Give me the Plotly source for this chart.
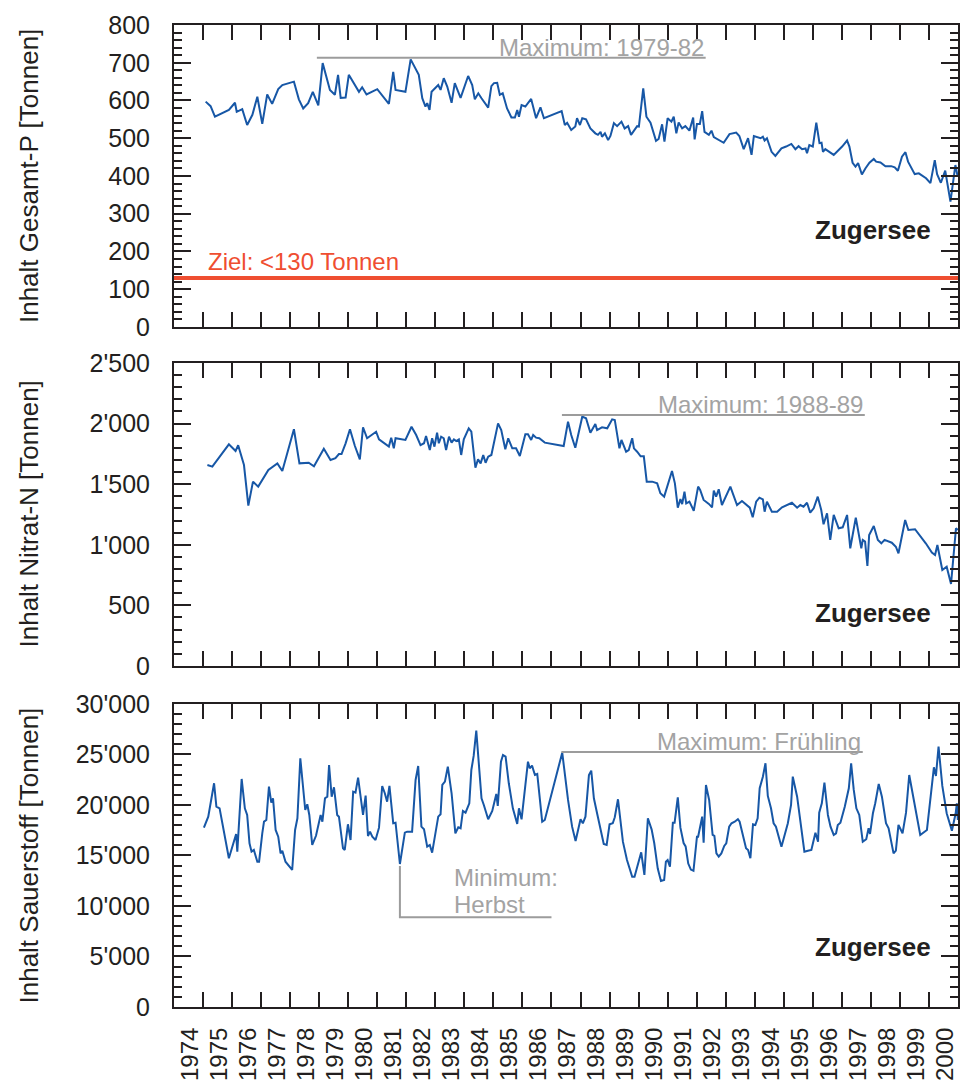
import plotly.graph_objects as go

# ---------------------------------------------------------------------------
# Zugersee: lake content of total phosphorus, nitrate-N and oxygen (tonnes)
# ---------------------------------------------------------------------------
p_year = [1975.09, 1975.26, 1975.41, 1975.89, 1976.10, 1976.16, 1976.35, 1976.52, 1976.70, 1976.87,
          1977.04, 1977.21, 1977.38, 1977.59, 1977.73, 1978.13, 1978.30, 1978.45, 1978.62, 1978.78,
          1978.97, 1979.12, 1979.37, 1979.54, 1979.65, 1979.74, 1979.91, 1980.02, 1980.37, 1980.48,
          1980.63, 1981.00, 1981.40, 1981.55, 1981.63, 1981.97, 1982.15, 1982.43, 1982.55, 1982.66,
          1982.72, 1982.80, 1982.87, 1983.10, 1983.18, 1983.29, 1983.41, 1983.56, 1983.67, 1983.87,
          1984.13, 1984.27, 1984.36, 1984.48, 1984.59, 1984.69, 1984.82, 1984.93, 1985.02, 1985.13,
          1985.22, 1985.32, 1985.47, 1985.62, 1985.74, 1985.82, 1985.88, 1985.97, 1986.10, 1986.30,
          1986.47, 1986.62, 1986.74, 1987.35, 1987.46, 1987.54, 1987.68, 1987.82, 1987.88, 1987.98,
          1988.06, 1988.19, 1988.34, 1988.51, 1988.60, 1988.69, 1988.74, 1988.84, 1988.95, 1989.03,
          1989.15, 1989.26, 1989.41, 1989.52, 1989.64, 1989.74, 1989.95, 1990.01, 1990.16, 1990.27,
          1990.41, 1990.60, 1990.69, 1990.81, 1990.89, 1991.00, 1991.13, 1991.21, 1991.30, 1991.38,
          1991.50, 1991.61, 1991.75, 1991.88, 1991.93, 1992.01, 1992.11, 1992.19, 1992.27, 1992.42,
          1992.51, 1992.59, 1992.76, 1992.93, 1993.13, 1993.36, 1993.47, 1993.62, 1993.77, 1993.89,
          1993.97, 1994.08, 1994.20, 1994.28, 1994.34, 1994.42, 1994.58, 1994.71, 1994.92, 1995.08,
          1995.26, 1995.40, 1995.51, 1995.63, 1995.75, 1995.80, 1995.88, 1996.00, 1996.12, 1996.23,
          1996.30, 1996.35, 1996.43, 1996.72, 1997.01, 1997.18, 1997.26, 1997.37, 1997.47, 1997.56,
          1997.69, 1997.81, 1997.95, 1998.10, 1998.18, 1998.33, 1998.50, 1998.70, 1998.82, 1998.93,
          1999.07, 1999.19, 1999.28, 1999.51, 1999.65, 1999.90, 2000.05, 2000.20, 2000.28, 2000.41,
          2000.56, 2000.74, 2000.91, 2000.99]
p_total = [597, 585, 557, 575, 594, 570, 577, 535, 562, 610,
           538, 616, 591, 630, 641, 650, 603, 579, 593, 623,
           587, 699, 628, 615, 668, 607, 608, 668, 623, 635,
           616, 630, 591, 676, 628, 623, 709, 668, 606, 584,
           593, 575, 623, 641, 628, 659, 637, 594, 646, 607,
           665, 641, 603, 619, 606, 594, 581, 638, 646, 647,
           615, 619, 579, 555, 555, 575, 557, 588, 584, 604,
           553, 582, 553, 572, 535, 541, 522, 531, 553, 535,
           553, 550, 526, 513, 509, 517, 504, 513, 495, 506,
           540, 532, 544, 526, 532, 509, 532, 531, 632, 557,
           541, 493, 498, 537, 491, 553, 544, 557, 513, 542,
           526, 532, 520, 555, 497, 538, 538, 572, 517, 509,
           520, 503, 495, 488, 511, 515, 506, 471, 500, 456,
           506, 504, 500, 504, 494, 500, 464, 453, 473, 478,
           485, 471, 479, 471, 473, 460, 482, 478, 541, 487,
           488, 464, 471, 456, 478, 494, 478, 435, 425, 434,
           404, 420, 435, 445, 438, 436, 426, 426, 423, 414,
           451, 463, 438, 405, 407, 394, 381, 442, 405, 382,
           414, 332, 429, 398]

n_year = [1975.15, 1975.32, 1975.89, 1976.12, 1976.21, 1976.41, 1976.56, 1976.72, 1976.90, 1977.25,
          1977.56, 1977.73, 1978.13, 1978.32, 1978.64, 1978.82, 1979.16, 1979.39, 1979.56, 1979.68,
          1979.77, 1979.91, 1980.06, 1980.23, 1980.40, 1980.51, 1980.65, 1980.80, 1980.96, 1981.06,
          1981.23, 1981.40, 1981.48, 1981.57, 1981.63, 1981.97, 1982.18, 1982.34, 1982.49, 1982.61,
          1982.68, 1982.81, 1982.89, 1982.97, 1983.06, 1983.12, 1983.20, 1983.29, 1983.37, 1983.47,
          1983.56, 1983.64, 1983.72, 1983.81, 1983.89, 1983.98, 1984.15, 1984.24, 1984.38, 1984.47,
          1984.56, 1984.65, 1984.73, 1984.82, 1984.93, 1985.16, 1985.27, 1985.41, 1985.51, 1985.65,
          1985.78, 1985.91, 1986.10, 1986.19, 1986.30, 1986.37, 1986.47, 1986.58, 1986.77, 1987.42,
          1987.57, 1987.68, 1987.82, 1987.91, 1988.06, 1988.19, 1988.34, 1988.51, 1988.57, 1988.74,
          1988.92, 1989.09, 1989.18, 1989.34, 1989.41, 1989.57, 1989.66, 1989.78, 1989.84, 1989.95,
          1990.07, 1990.18, 1990.28, 1990.47, 1990.64, 1990.75, 1990.88, 1991.15, 1991.25, 1991.35,
          1991.44, 1991.50, 1991.58, 1991.64, 1991.75, 1991.90, 1992.05, 1992.12, 1992.24, 1992.42,
          1992.53, 1992.59, 1992.67, 1992.76, 1992.87, 1993.16, 1993.39, 1993.56, 1993.74, 1993.83,
          1993.93, 1994.05, 1994.16, 1994.28, 1994.34, 1994.42, 1994.59, 1994.77, 1994.94, 1995.28,
          1995.46, 1995.57, 1995.68, 1995.80, 1995.91, 1996.03, 1996.17, 1996.29, 1996.37, 1996.49,
          1996.60, 1996.72, 1996.89, 1997.03, 1997.18, 1997.29, 1997.48, 1997.67, 1997.72, 1997.80,
          1997.88, 1997.94, 1998.10, 1998.24, 1998.36, 1998.47, 1998.72, 1998.86, 1998.95, 1999.18,
          1999.29, 1999.52, 1999.89, 2000.10, 2000.21, 2000.29, 2000.46, 2000.61, 2000.76, 2000.93,
          2000.99]
n_nitrate = [1658, 1645, 1829, 1774, 1821, 1658, 1323, 1521, 1480, 1617,
             1672, 1609, 1953, 1672, 1677, 1648, 1792, 1700, 1714, 1749,
             1749, 1837, 1953, 1815, 1705, 1969, 1879, 1906, 1933, 1870,
             1843, 1810, 1884, 1796, 1879, 1865, 1974, 1906, 1823, 1838,
             1898, 1782, 1879, 1810, 1925, 1838, 1892, 1879, 1782, 1892,
             1843, 1870, 1856, 1870, 1741, 1870, 1961, 1933, 1636, 1705,
             1672, 1741, 1677, 1727, 1741, 2002, 1947, 1788, 1879, 1796,
             1796, 1733, 1912, 1912, 1865, 1906, 1884, 1879, 1843, 1815,
             2016, 1906, 1801, 1906, 2057, 2044, 1925, 1997, 1947, 1969,
             1961, 2035, 2030, 1796, 1865, 1768, 1782, 1879, 1796, 1768,
             1730, 1730, 1521, 1521, 1507, 1425, 1397, 1609, 1507, 1306,
             1377, 1335, 1438, 1342, 1356, 1281, 1480, 1452, 1370, 1337,
             1309, 1446, 1397, 1458, 1328, 1480, 1328, 1361, 1328, 1306,
             1227, 1356, 1389, 1375, 1273, 1356, 1273, 1273, 1309, 1347,
             1306, 1328, 1314, 1347, 1265, 1301, 1397, 1287, 1169, 1260,
             1040, 1246, 1136, 1144, 1246, 971, 1224, 971, 1040, 1026,
             825, 1081, 1155, 1040, 1012, 1040, 1017, 984, 930, 1205,
             1122, 1128, 1012, 935, 916, 998, 792, 819, 677, 1136,
             1122]

o_year = [1975.03, 1975.18, 1975.38, 1975.46, 1975.57, 1975.89, 1976.14, 1976.18, 1976.33, 1976.44,
          1976.52, 1976.60, 1976.67, 1976.75, 1976.87, 1976.93, 1977.04, 1977.10, 1977.18, 1977.27,
          1977.35, 1977.41, 1977.50, 1977.59, 1977.67, 1977.73, 1977.84, 1978.07, 1978.17, 1978.25,
          1978.35, 1978.52, 1978.59, 1978.66, 1978.76, 1978.89, 1979.05, 1979.11, 1979.20, 1979.28,
          1979.34, 1979.43, 1979.51, 1979.62, 1979.68, 1979.82, 1979.88, 1979.99, 1980.08, 1980.17,
          1980.25, 1980.34, 1980.51, 1980.60, 1980.68, 1980.75, 1980.83, 1980.94, 1981.06, 1981.17,
          1981.26, 1981.34, 1981.42, 1981.55, 1981.63, 1981.78, 1981.95, 1982.03, 1982.20, 1982.32,
          1982.41, 1982.52, 1982.61, 1982.72, 1982.81, 1982.89, 1983.10, 1983.18, 1983.24, 1983.33,
          1983.43, 1983.56, 1983.69, 1983.79, 1983.87, 1983.95, 1984.04, 1984.17, 1984.24, 1984.32,
          1984.41, 1984.59, 1984.67, 1984.82, 1984.96, 1985.10, 1985.15, 1985.26, 1985.33, 1985.42,
          1985.53, 1985.67, 1985.82, 1985.88, 1985.97, 1986.13, 1986.19, 1986.25, 1986.33, 1986.43,
          1986.51, 1986.68, 1986.77, 1987.37, 1987.57, 1987.71, 1987.83, 1988.00, 1988.08, 1988.17,
          1988.29, 1988.37, 1988.46, 1988.57, 1988.66, 1988.80, 1988.90, 1989.00, 1989.11, 1989.18,
          1989.29, 1989.38, 1989.46, 1989.60, 1989.78, 1989.86, 1989.98, 1990.09, 1990.20, 1990.32,
          1990.45, 1990.54, 1990.66, 1990.77, 1990.88, 1990.94, 1991.00, 1991.08, 1991.18, 1991.24,
          1991.35, 1991.44, 1991.55, 1991.62, 1991.71, 1991.80, 1991.89, 1992.01, 1992.05, 1992.19,
          1992.24, 1992.32, 1992.43, 1992.55, 1992.61, 1992.68, 1992.76, 1992.85, 1992.95, 1993.02,
          1993.12, 1993.20, 1993.31, 1993.42, 1993.48, 1993.60, 1993.70, 1993.77, 1993.85, 1993.94,
          1994.02, 1994.10, 1994.17, 1994.28, 1994.37, 1994.45, 1994.56, 1994.65, 1994.73, 1994.92,
          1995.02, 1995.14, 1995.25, 1995.31, 1995.46, 1995.57, 1995.71, 1995.83, 1995.95, 1996.09,
          1996.18, 1996.22, 1996.31, 1996.40, 1996.52, 1996.61, 1996.72, 1996.80, 1996.86, 1996.95,
          1997.10, 1997.24, 1997.32, 1997.41, 1997.50, 1997.60, 1997.67, 1997.72, 1997.84, 1997.92,
          1997.97, 1998.07, 1998.15, 1998.27, 1998.38, 1998.52, 1998.61, 1998.78, 1998.86, 1998.95,
          1999.09, 1999.21, 1999.32, 1999.47, 1999.70, 1999.93, 2000.08, 2000.17, 2000.24, 2000.33,
          2000.46, 2000.61, 2000.79, 2000.92, 2000.96, 2000.995]
o_oxygen = [17753, 18842, 22148, 19832, 19670, 14722, 17128, 15376, 22574, 19670,
            19010, 16208, 15376, 15544, 14386, 14386, 17196, 18346, 18515, 21812,
            20228, 20664, 17525, 16861, 15208, 15474, 14386, 13564, 17525, 18683,
            24624, 19505, 20070, 19010, 16040, 16950, 19010, 18346, 20664, 20822,
            23960, 20822, 21752, 19010, 18842, 15713, 15544, 18089, 16535, 21317,
            21218, 22703, 19010, 20921, 16931, 17357, 16861, 16535, 17753, 21881,
            21158, 20327, 21881, 18188, 18247, 14158, 17258, 17357, 17357, 22475,
            23861, 17852, 17594, 15871, 16040, 15277, 18842, 19079, 21980, 22307,
            23792, 21158, 17196, 17792, 17693, 19406, 19238, 20168, 23465, 24852,
            27357, 20664, 20000, 18584, 19406, 21089, 19901, 24287, 24950, 24782,
            22148, 19670, 18119, 19670, 18584, 22307, 24287, 23630, 23891, 22970,
            23069, 18346, 18515, 25178, 20495, 17852, 16436, 18584, 18188, 18842,
            22970, 23396, 20664, 19178, 18020, 16139, 16040, 18089, 18188, 18782,
            20565, 18346, 16366, 14555, 12901, 12901, 14287, 15317, 13069, 18683,
            17560, 16208, 13700, 12475, 12574, 14386, 14555, 13891, 18247, 18247,
            20763, 17750, 16230, 15900, 14200, 13600, 13480, 16861, 16861, 18842,
            16268, 21980, 20495, 17030, 16931, 15208, 14881, 15208, 15941, 16208,
            17852, 18188, 18346, 18584, 18346, 16861, 15713, 15544, 14722, 18089,
            18020, 18683, 21654, 22802, 24129, 20892, 19670, 18188, 17852, 15871,
            17030, 18188, 20000, 22802, 20822, 18346, 15376, 15474, 15544, 17258,
            16366, 19238, 20168, 22208, 19010, 17852, 17030, 17196, 18020, 18247,
            19832, 21654, 24129, 21485, 19670, 19010, 17357, 16366, 16604, 17693,
            17128, 19178, 20168, 22079, 20822, 18188, 17693, 15208, 15474, 18020,
            17196, 19238, 22970, 20495, 17030, 17525, 21812, 23733, 22871, 25772,
            21881, 19178, 17456, 19178, 20168, 18515]

# axis ticks and labels
year_ticks = list(range(1974, 2002))
year_labels = [str(y) for y in range(1974, 2001)]
p_ticks = [0, 100, 200, 300, 400, 500, 600, 700, 800]
p_ticktext = ["0", "100", "200", "300", "400", "500", "600", "700", "800"]
n_ticks = [0, 500, 1000, 1500, 2000, 2500]
n_ticktext = ["0", "500", "1'000", "1'500", "2'000", "2'500"]
o_ticks = [0, 5000, 10000, 15000, 20000, 25000, 30000]
o_ticktext = ["0", "5'000", "10'000", "15'000", "20'000", "25'000", "30'000"]

# target value and callouts
p_target = 130
p_max_span = ([1978.92, 1992.31], [713, 713])
n_max_span = ([1987.36, 1997.79], [2071, 2071])
o_max_span = ([1987.34, 1997.72], [25250, 25250])
o_min_path = ([1981.78, 1981.78, 1987.0], [13950, 8880, 8880])

FONT = "Liberation Sans, Arial, Helvetica, sans-serif"
INK = "#231f20"
BLUE = "#1757a6"
GRAY = "#a3a3a3"
GRAY_LINE = "#9c9c9c"
RED = "#ef4e31"

fig = go.Figure()

series = [
    (p_year, p_total, "x", "y"),
    (n_year, n_nitrate, "x2", "y2"),
    (o_year, o_oxygen, "x3", "y3"),
]
for xs, ys, xa, ya in series:
    fig.add_trace(go.Scatter(x=xs, y=ys, mode="lines", xaxis=xa, yaxis=ya,
                             line=dict(color=BLUE, width=2), hoverinfo="skip",
                             showlegend=False))

# target line for total phosphorus
fig.add_trace(go.Scatter(x=[1974, 2001], y=[p_target, p_target], mode="lines",
                         xaxis="x", yaxis="y", line=dict(color=RED, width=4),
                         hoverinfo="skip", showlegend=False))

# grey callout lines
for (xs, ys), xa, ya in [(p_max_span, "x", "y"), (n_max_span, "x2", "y2"),
                         (o_max_span, "x3", "y3"), (o_min_path, "x3", "y3")]:
    fig.add_trace(go.Scatter(x=xs, y=ys, mode="lines", xaxis=xa, yaxis=ya,
                             line=dict(color=GRAY_LINE, width=2), hoverinfo="skip",
                             showlegend=False))

y_domains = [[0.6925, 1.0], [0.3473, 0.6558], [0.0, 0.3086]]


def x_axis(anchor, labelled):
    ax = dict(range=[1974, 2001], domain=[0, 1], anchor=anchor, automargin=False,
              showline=True, linewidth=2, linecolor=INK, mirror="ticks",
              showgrid=False, zeroline=False,
              ticks="inside", ticklen=15, tickwidth=2, tickcolor=INK,
              tickfont=dict(family=FONT, size=24, color=INK))
    if labelled:
        ax.update(tickvals=year_ticks[:-1], ticktext=year_labels, tickangle=-90,
                  ticklabelshift=16, ticklabelstandoff=9)
    else:
        ax.update(tickvals=year_ticks, showticklabels=False)
    return ax


def y_axis(anchor, dom, rng, tv, tt, minor_step):
    return dict(range=rng, domain=dom, anchor=anchor, tickvals=tv, ticktext=tt,
                automargin=False,
                showline=True, linewidth=2, linecolor=INK, mirror="ticks",
                showgrid=False, zeroline=False,
                ticks="inside", ticklen=17, tickwidth=2, tickcolor=INK,
                minor=dict(dtick=minor_step, tick0=0, ticks="inside", ticklen=8,
                           tickwidth=1.5, tickcolor=INK),
                ticklabelstandoff=17,
                tickfont=dict(family=FONT, size=25, color=INK))


fig.update_layout(
    width=963, height=1082,
    margin=dict(l=174, r=5, t=25, b=75, pad=0, autoexpand=False),
    paper_bgcolor="white", plot_bgcolor="white",
    showlegend=False,
    xaxis=x_axis("y", False),
    xaxis2=x_axis("y2", False),
    xaxis3=x_axis("y3", True),
    yaxis=y_axis("x", y_domains[0], [0, 800], p_ticks, p_ticktext, 20),
    yaxis2=y_axis("x2", y_domains[1], [0, 2500], n_ticks, n_ticktext, 100),
    yaxis3=y_axis("x3", y_domains[2], [0, 30000], o_ticks, o_ticktext, 1000),
)

annotations = []
# axis titles
for title, dom in zip(["Inhalt Gesamt-P [Tonnen]", "Inhalt Nitrat-N [Tonnen]",
                       "Inhalt Sauerstoff [Tonnen]"], y_domains):
    annotations.append(dict(text=title, xref="paper", yref="paper",
                            x=-0.1849, y=(dom[0] + dom[1]) / 2, textangle=-90,
                            xanchor="center", yanchor="middle", showarrow=False,
                            font=dict(family=FONT, size=26, color=INK)))
# lake name
for xa, ya, yfrac in [("x", "y", 0.321), ("x2", "y2", 0.175), ("x3", "y3", 0.198)]:
    annotations.append(dict(text="<b>Zugersee</b>", xref=xa + " domain", yref=ya + " domain",
                            x=0.968, y=yfrac, xanchor="right", yanchor="middle",
                            showarrow=False, font=dict(family=FONT, size=26, color=INK)))
# callout texts
for text, (xs, ys), xa, ya in [("Maximum: 1979-82", p_max_span, "x", "y"),
                               ("Maximum: 1988-89", n_max_span, "x2", "y2"),
                               ("Maximum: Frühling", o_max_span, "x3", "y3")]:
    annotations.append(dict(text=text, xref=xa, yref=ya, x=xs[1], y=ys[1],
                            xanchor="right", yanchor="middle", yshift=10,
                            showarrow=False, font=dict(family=FONT, size=24, color=GRAY)))
for text, yv in [("Minimum:", 12772), ("Herbst", 10099)]:
    annotations.append(dict(text=text, xref="x3", yref="y3",
                            x=1983.57, y=yv, xanchor="left", yanchor="middle", align="left",
                            showarrow=False, font=dict(family=FONT, size=24, color=GRAY)))
annotations.append(dict(text="Ziel: <130 Tonnen", xref="x", yref="y",
                        x=1975.1, y=p_target, xanchor="left", yanchor="middle", yshift=16,
                        showarrow=False, font=dict(family=FONT, size=24, color=RED)))
fig.update_layout(annotations=annotations)

fig.write_html("out.html")
